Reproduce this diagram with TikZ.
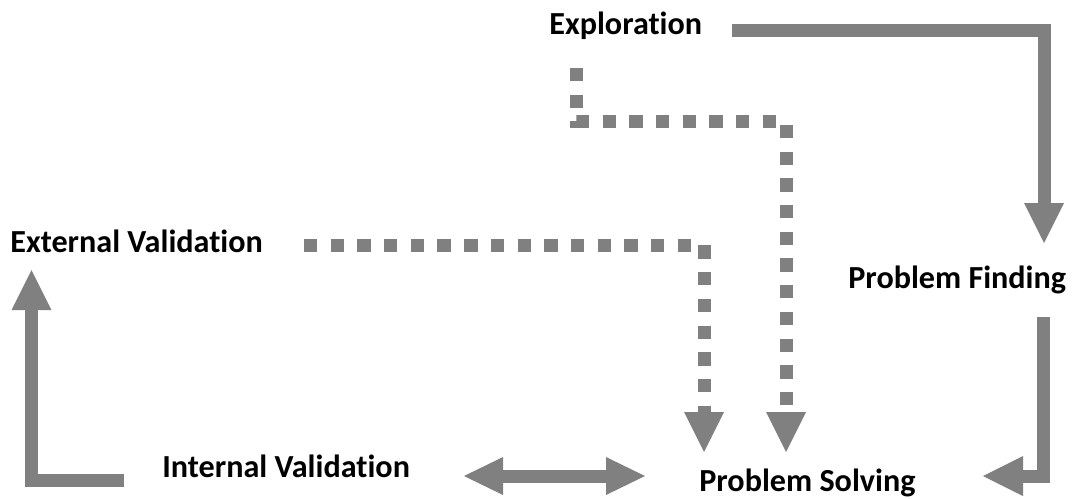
\documentclass[tikz,border=0pt]{standalone}
\usepackage{fontspec}
\setmainfont{Carlito}[Ligatures=NoCommon]
\usetikzlibrary{arrows.meta}
\definecolor{arrowgray}{HTML}{808080}

\begin{document}
\begin{tikzpicture}[x=0.02cm, y=-0.02cm, inner sep=0pt,
  txt/.style={anchor=base west, font=\fontsize{18.3}{21}\selectfont\bfseries},
  flow/.style={draw=arrowgray, line width=0.26cm, -{Triangle[length=0.8cm, width=0.8cm, line width=0pt]}},
  dotflow/.style={flow, dash pattern=on 0.267cm off 0.267cm}]
\useasboundingbox (0,0) rectangle (1077,498);
\node[txt] (explo) at (549,34) {Exploration};
\node[txt] (ext) at (10,252) {External Validation};
\node[txt] (find) at (848,288) {Problem Finding};
\node[txt] (int) at (162,477) {Internal Validation};
\node[txt] (solve) at (699,491) {Problem Solving};
\coordinate (explo-out) at (732,30);
\coordinate (explo-dot) at (576,68);
\coordinate (explo-bend) at (786,121.5);
\coordinate (ext-out) at (304,245);
\coordinate (ext-in) at (31.5,270);
\coordinate (find-in) at (1044,243);
\coordinate (find-out) at (1043,317);
\coordinate (int-back) at (124,480);
\coordinate (int-out) at (464,476);
\coordinate (solve-a) at (704,452);
\coordinate (solve-b) at (786,452);
\coordinate (solve-c) at (983,476);
\coordinate (solve-d) at (645,476);
\draw[flow] (explo-out) -| (find-in);
\draw[flow] (find-out) |- (solve-c);
\draw[flow] (int-back) -| (ext-in);
\draw[flow, {Triangle[length=0.78cm, width=0.76cm, line width=0pt]}-{Triangle[length=0.78cm, width=0.76cm, line width=0pt]}] (int-out) -- (solve-d);
\draw[dotflow] (explo-dot) |- (explo-bend) -- (solve-b);
\draw[dotflow] (ext-out) -| (solve-a);
\end{tikzpicture}
\end{document}
